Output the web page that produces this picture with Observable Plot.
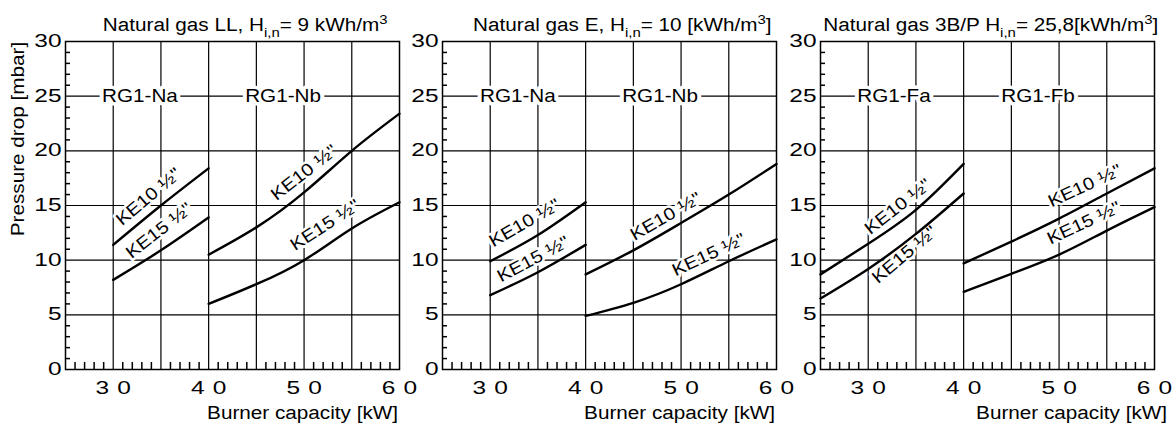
<!DOCTYPE html>
<html><head><meta charset="utf-8">
<script src="https://cdn.jsdelivr.net/npm/d3@7"></script>
<script src="https://cdn.jsdelivr.net/npm/@observablehq/plot@0.6"></script>
<style>
body{margin:0;background:#fff;}
#wrap{position:relative;width:1175px;height:431px;overflow:hidden;font-family:"Liberation Sans",Arial,Helvetica,sans-serif;color:#000;background:#fff;}
.t{position:absolute;white-space:nowrap;font-size:18px;line-height:18px;transform-origin:100% 50%;transform:scaleX(1.15);}
.sub{font-size:13px;position:relative;top:6px;}
.sup{font-size:13px;position:relative;top:-7px;}
.yl{position:absolute;white-space:nowrap;font-size:18px;line-height:18px;transform-origin:50% 50%;transform:translate(-50%,-50%) rotate(-90deg) scaleX(1.15);}
#wrap svg{position:absolute;top:0;overflow:visible;}
</style></head><body><div id="wrap"></div>
<script>
// ---- data ----
const xNa = [30, 35, 40];
const xNb = [40, 45, 50, 55, 60];
const xFa = [25, 30, 35, 40];
const xFb = [40, 45, 50, 55, 60];

const llNaKE10 = [11.4, 15.0, 18.4];
const llNaKE15 = [8.2, 10.9, 13.9];
const llNbKE10 = [10.5, 13.0, 16.2, 20.0, 23.4];
const llNbKE15 = [6.0, 7.8, 10.0, 12.9, 15.3];

const eNaKE10 = [9.9, 12.3, 15.3];
const eNaKE15 = [6.8, 8.9, 11.4];
const eNbKE10 = [8.7, 10.9, 13.4, 16.0, 18.8];
const eNbKE15 = [4.9, 6.1, 7.8, 9.9, 11.9];

const pFaKE10 = [8.7, 11.5, 14.6, 18.8];
const pFaKE15 = [6.5, 9.2, 12.4, 16.1];
const pFbKE10 = [9.7, 11.7, 13.8, 16.1, 18.4];
const pFbKE15 = [7.1, 8.75, 10.5, 12.7, 14.85];

const xTickLabels = [30, 40, 50, 60];
const yTickLabels = [0, 5, 10, 15, 20, 25, 30];
const xGrid = [30, 35, 40, 45, 50, 55];
const yGrid = [5, 10, 15, 20, 25];
const xMinor = [26, 27, 28, 29, 31, 32, 33, 34, 36, 37, 38, 39, 41, 42, 43, 44, 46, 47, 48, 49, 51, 52, 53, 54, 56, 57, 58, 59];
const yMinor = [1, 2, 3, 4, 6, 7, 8, 9, 11, 12, 13, 14, 16, 17, 18, 19, 21, 22, 23, 24, 26, 27, 28, 29];

const KE10 = "KE10 \u00bd\"";
const KE15 = "KE15 \u00bd\"";

const panels = [
  {
    title: "Natural gas LL, H<span class='sub'>i,n</span>= 9 kWh/m<span class='sup'>3</span>",
    titleRight: 388, xlabRight: 398, left: 65,
    curves: [
      {id: "a10", x: xNa, y: llNaKE10}, {id: "a15", x: xNa, y: llNaKE15},
      {id: "b10", x: xNb, y: llNbKE10}, {id: "b15", x: xNb, y: llNbKE15}
    ],
    sections: [{x: 32.8, y: 25, text: "RG1-Na"}, {x: 47.8, y: 25, text: "RG1-Nb"}],
    labels: [
      {x: 33.7, y: 15.8, r: -40, text: KE10}, {x: 34.8, y: 12.7, r: -38, text: KE15},
      {x: 50.0, y: 18.0, r: -38, text: KE10}, {x: 52.2, y: 13.2, r: -33, text: KE15}
    ]
  },
  {
    title: "Natural gas E, H<span class='sub'>i,n</span>= 10 [kWh/m<span class='sup'>3</span>]",
    titleRight: 772, xlabRight: 775, left: 442,
    curves: [
      {id: "a10", x: xNa, y: eNaKE10}, {id: "a15", x: xNa, y: eNaKE15},
      {id: "b10", x: xNb, y: eNbKE10}, {id: "b15", x: xNb, y: eNbKE15}
    ],
    sections: [{x: 32.9, y: 25, text: "RG1-Na"}, {x: 47.8, y: 25, text: "RG1-Nb"}],
    labels: [
      {x: 33.6, y: 13.4, r: -30, text: KE10}, {x: 34.5, y: 10.1, r: -28, text: KE15},
      {x: 48.4, y: 14.0, r: -30, text: KE10}, {x: 52.9, y: 10.5, r: -25, text: KE15}
    ]
  },
  {
    title: "Natural gas 3B/P H<span class='sub'>i,n</span>= 25,8[kWh/m<span class='sup'>3</span>]",
    titleRight: 1158, xlabRight: 1167, left: 820,
    curves: [
      {id: "a10", x: xFa, y: pFaKE10}, {id: "a15", x: xFa, y: pFaKE15},
      {id: "b10", x: xFb, y: pFbKE10}, {id: "b15", x: xFb, y: pFbKE15}
    ],
    sections: [{x: 32.7, y: 25, text: "RG1-Fa"}, {x: 47.8, y: 25, text: "RG1-Fb"}],
    labels: [
      {x: 33.1, y: 14.9, r: -38, text: KE10}, {x: 33.8, y: 10.5, r: -40, text: KE15},
      {x: 52.7, y: 16.8, r: -25, text: KE10}, {x: 52.6, y: 13.4, r: -25, text: KE15}
    ]
  }
];

const FONT = "'Liberation Sans', Arial, Helvetica, sans-serif";
const wrap = document.getElementById("wrap");

function stretch(svg) {
  svg.querySelectorAll("text").forEach(t => {
    const g = t.closest("g[aria-label]");
    const isTick = g && /tick label/.test(g.getAttribute("aria-label"));
    const s = isTick ? 1.4 : 1.15;
    const tr = t.getAttribute("transform") || "";
    t.setAttribute("transform", tr + ` scale(${s},1)`);
  });
}

panels.forEach((p, i) => {
  const rows = p.curves.flatMap(c => c.x.map((x, k) => ({x, y: c.y[k], id: c.id})));
  const svg = Plot.plot({
    width: 414, height: 431,
    marginLeft: 65, marginRight: 15, marginTop: 41, marginBottom: 62,
    style: {fontFamily: FONT, fontSize: "17.5px", color: "black", background: "transparent", overflow: "visible"},
    x: {domain: [25, 60], ticks: xTickLabels, tickSize: 0, tickPadding: 12,
        tickFormat: d => String(d).split("").join("\u2004"), label: null},
    y: {domain: [0, 30], ticks: yTickLabels, tickSize: 0, tickPadding: 4, label: null},
    marks: [
      Plot.ruleX(xGrid, {stroke: "black", strokeWidth: 1.2}),
      Plot.ruleY(yGrid, {stroke: "black", strokeWidth: 1.2}),
      // minor ticks, drawn inward from the bottom and left edges
      Plot.ruleX(xMinor, {insetTop: 321, stroke: "black", strokeWidth: 1.5}),
      Plot.ruleY(yMinor, {insetRight: 329, stroke: "black", strokeWidth: 1.5}),
      Plot.frame({stroke: "black", strokeWidth: 1.5}),
      Plot.text(p.sections, {x: "x", y: "y", text: "text", fontSize: 18, fill: "black",
        stroke: "white", strokeWidth: 7}),
      Plot.text(p.labels, {x: "x", y: "y", text: "text", rotate: "r", fontSize: 17.5, fill: "black",
        stroke: "white", strokeWidth: 5}),
      Plot.line(rows, {x: "x", y: "y", z: "id", stroke: "black", strokeWidth: 2.4, curve: "natural"})
    ]
  });
  svg.style.left = (p.left - 65) + "px";
  stretch(svg);
  wrap.appendChild(svg);

  const t = document.createElement("div");
  t.className = "t";
  t.innerHTML = p.title;
  t.style.right = (1175 - p.titleRight) + "px";
  t.style.top = "16px";
  wrap.appendChild(t);

  const xl = document.createElement("div");
  xl.className = "t";
  xl.textContent = "Burner capacity [kW]";
  xl.style.right = (1175 - p.xlabRight) + "px";
  xl.style.top = "404px";
  wrap.appendChild(xl);
});

const yl = document.createElement("div");
yl.className = "yl";
yl.textContent = "Pressure drop [mbar]";
yl.style.left = "18px";
yl.style.top = "139px";
wrap.appendChild(yl);
</script>
</body></html>
